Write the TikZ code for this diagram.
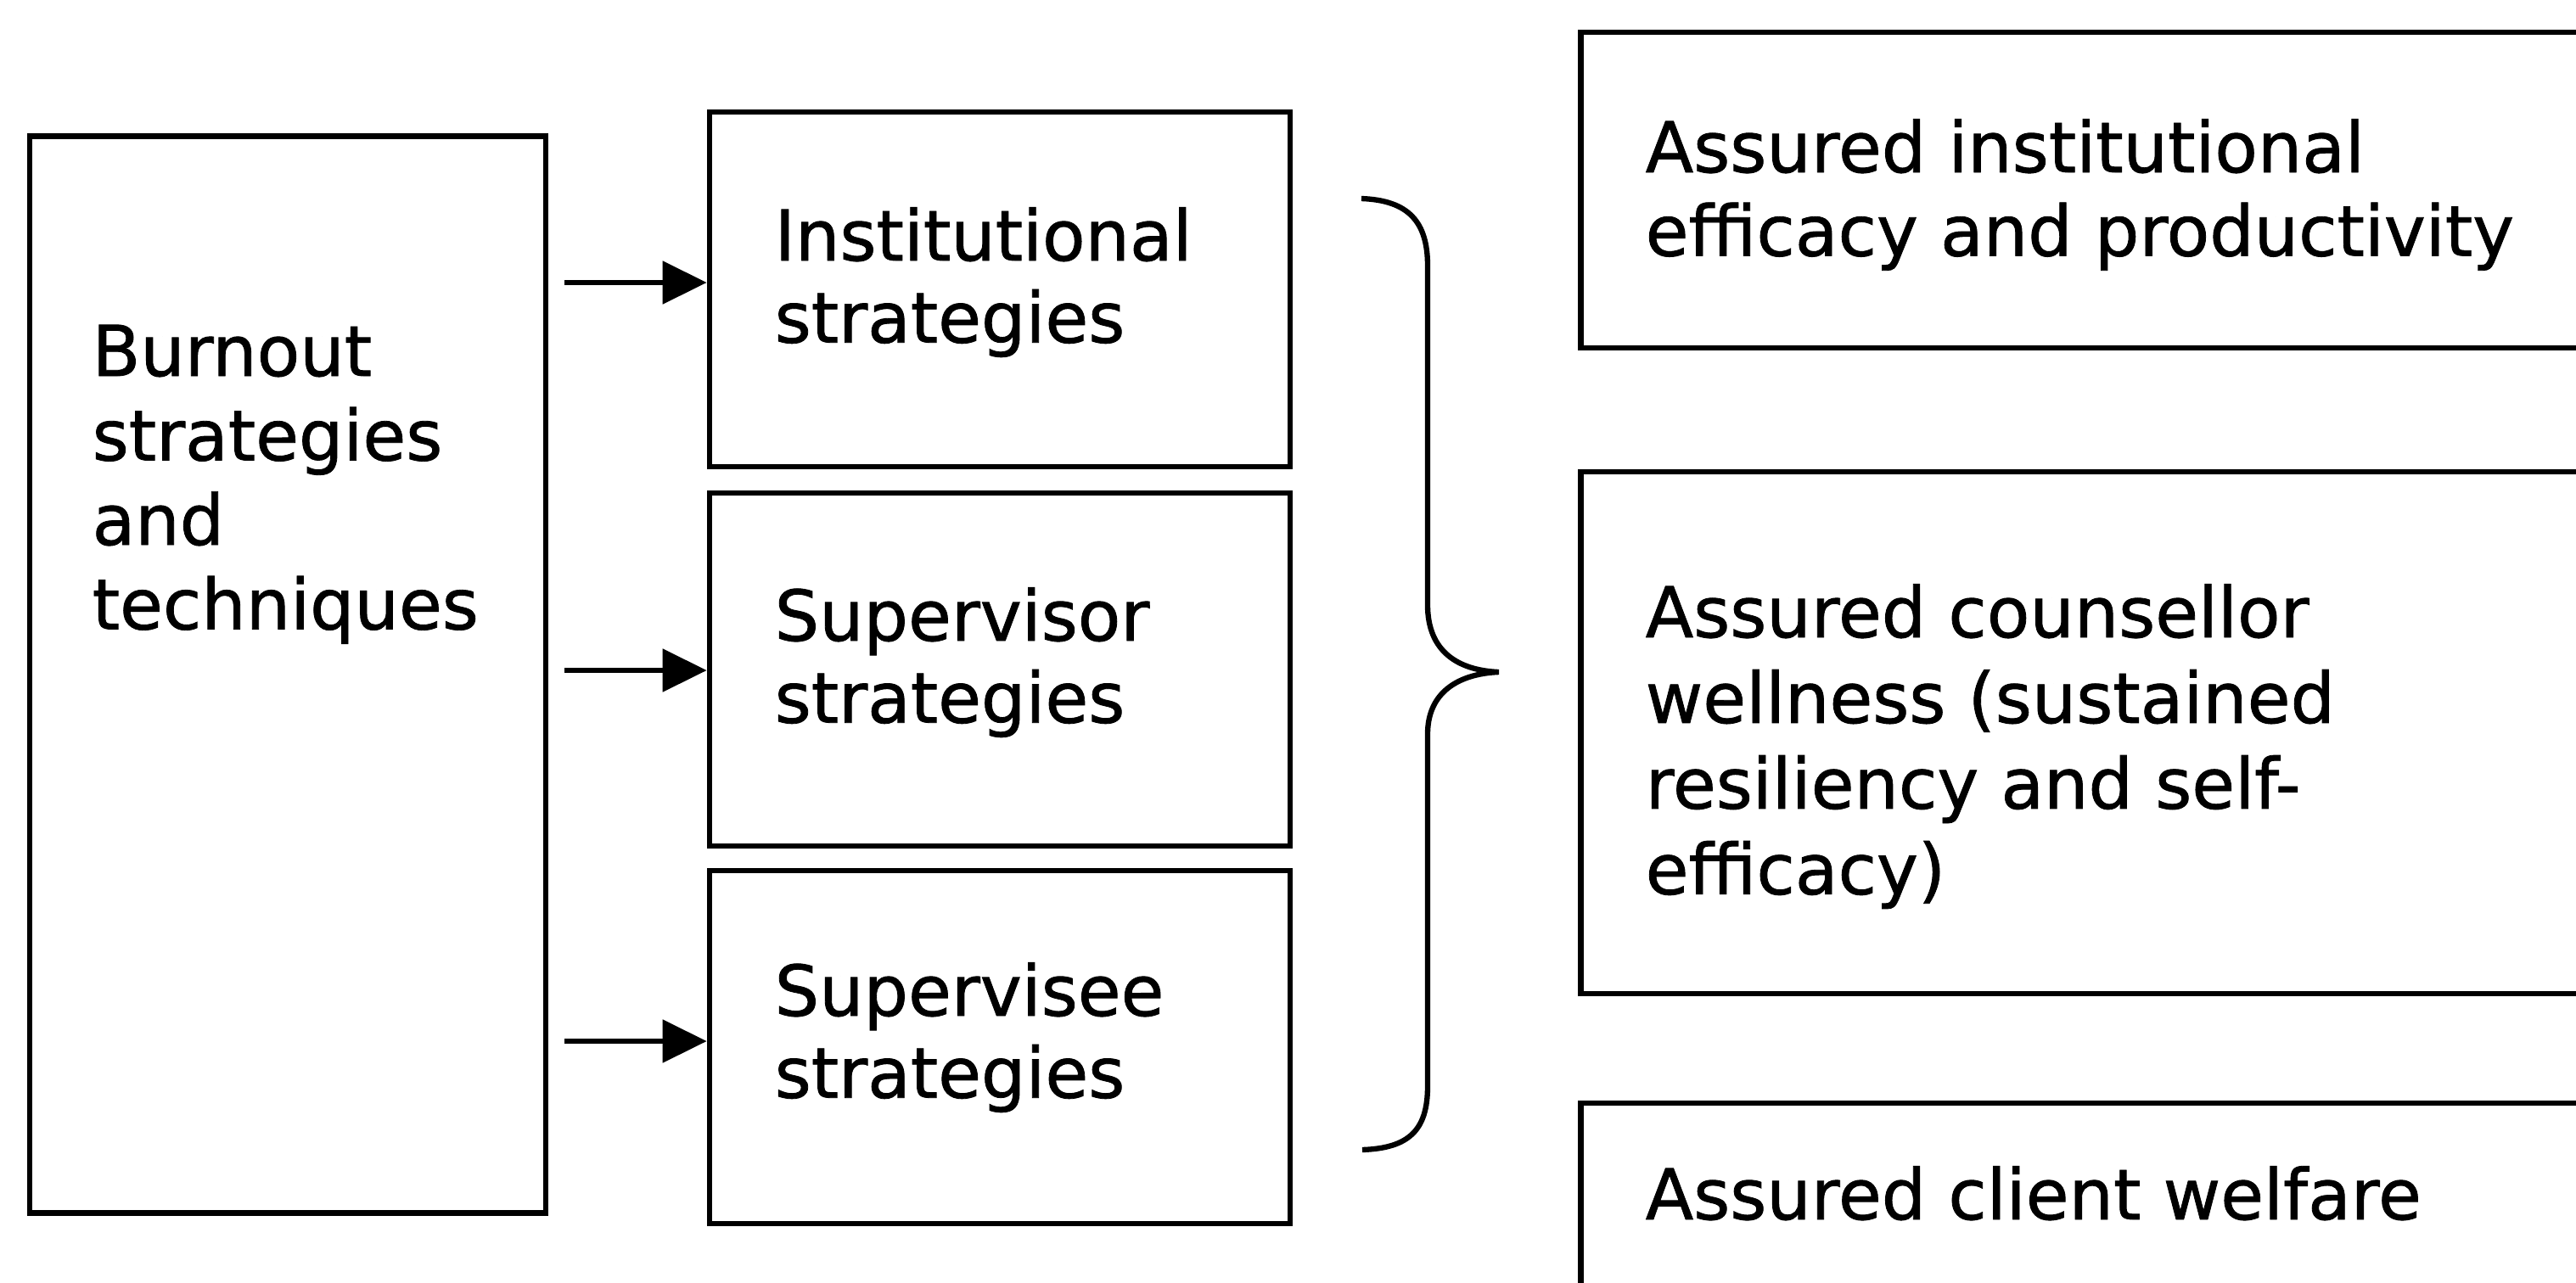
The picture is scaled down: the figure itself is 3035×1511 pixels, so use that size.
\documentclass[tikz,border=0pt]{standalone}
\usepackage{fontspec}
\setmainfont{DejaVu Sans}[UprightFeatures={FakeBold=1.0}]
\usetikzlibrary{arrows.meta}
\tikzset{
  box/.style={draw=black, line width=1.8pt, rectangle, inner sep=0pt},
  txt/.style={anchor=base west, inner sep=0pt, font=\fontsize{23.5}{28}\selectfont},
  arr/.style={line width=1.5pt, -{Triangle[length=0.52cm,width=0.5cm]}},
  bracestyle/.style={line width=1.8pt}
}
\begin{document}
\begin{tikzpicture}[x=0.01cm, y=-0.01cm]
\useasboundingbox (0,0) rectangle (3035,1511);
\clip (0,0) rectangle (3035,1511);
\fill[white] (0,0) rectangle (3035,1511);

% left box
\node[box, minimum width=6.08cm, minimum height=12.68cm] (lb) at (339,795) {};
\node[txt] (lbt) at (108,443) {\baselineskip=28.3pt\vtop{\hbox{Burnout}\hbox{strategies}\hbox{and}\hbox{techniques}}};

% middle boxes
\node[box, minimum width=6.84cm, minimum height=4.18cm] (mb1) at (1178,341) {};
\node[box, minimum width=6.84cm, minimum height=4.16cm] (mb2) at (1178,789) {};
\node[box, minimum width=6.84cm, minimum height=4.16cm] (mb3) at (1178,1234) {};
\node[txt] (mt1) at (912,307) {\baselineskip=27.5pt\vtop{\hbox{Institutional}\hbox{strategies}}};
\node[txt] (mt2) at (912,755) {\baselineskip=27.5pt\vtop{\hbox{Supervisor}\hbox{strategies}}};
\node[txt] (mt3) at (912,1197) {\baselineskip=27.5pt\vtop{\hbox{Supervisee}\hbox{strategies}}};

% arrows
\coordinate (a1) at (665,333);
\coordinate (a2) at (665,790);
\coordinate (a3) at (665,1227);
\draw[arr] (a1) -- (a1 -| mb1.west);
\draw[arr] (a2) -- (a2 -| mb2.west);
\draw[arr] (a3) -- (a3 -| mb3.west);

% brace
\draw[bracestyle] (1604,234) .. controls (1660,236) and (1682,262) .. (1682,313)
  -- (1682,713) .. controls (1682,768) and (1718,790) .. (1766,792)
  .. controls (1718,794) and (1682,816) .. (1682,865)
  -- (1682,1280) .. controls (1682,1332) and (1660,1353) .. (1605,1355);

% right boxes
\node[box, minimum width=12.37cm, minimum height=3.72cm] (rb1) at (2481.5,224) {};
\node[box, minimum width=12.37cm, minimum height=6.15cm] (rb2) at (2481.5,863.5) {};
\node[box, minimum width=12.37cm, minimum height=3.0cm] (rb3) at (2481.5,1450) {};
\node[txt] (rt1) at (1938,203) {\baselineskip=28pt\vtop{\hbox{Assured institutional}\hbox{efficacy and productivity}}};
\node[txt] (rt2) at (1938,751) {\baselineskip=28.7pt\vtop{\hbox{Assured counsellor}\hbox{wellness (sustained}\hbox{resiliency and self-}\hbox{efficacy)}}};
\node[txt] (rt3) at (1938,1437) {Assured client welfare};
\end{tikzpicture}
\end{document}
